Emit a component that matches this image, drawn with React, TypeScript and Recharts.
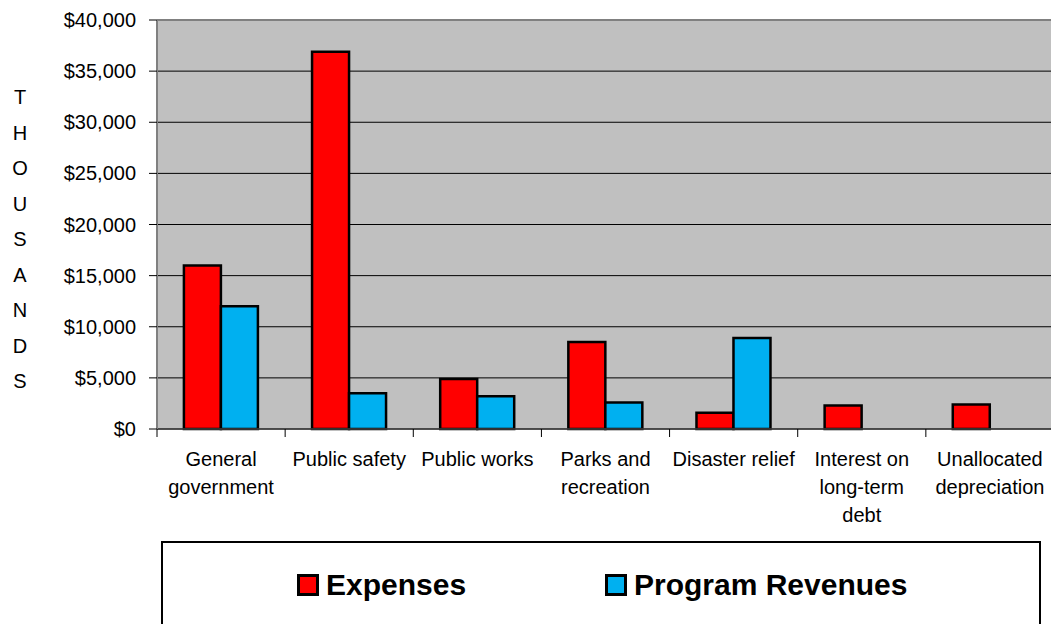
import React from 'react';
import { BarChart, Bar, XAxis, YAxis, CartesianGrid, ReferenceLine } from 'recharts';

const categories = [
  'General\ngovernment',
  'Public safety',
  'Public works',
  'Parks and\nrecreation',
  'Disaster relief',
  'Interest on\nlong-term\ndebt',
  'Unallocated\ndepreciation',
];
const expenses = [16000, 36900, 4900, 8500, 1600, 2300, 2400];
const programRevenues: (number | null)[] = [12000, 3500, 3200, 2600, 8900, null, null];
const yTicks = [0, 5000, 10000, 15000, 20000, 25000, 30000, 35000, 40000];
const seriesNames = ['Expenses', 'Program Revenues'];
const seriesColors = ['#FF0000', '#00B0F0'];
const axisTitle = 'THOUSANDS';

const data = categories.map((name, i) => ({
  name,
  expenses: expenses[i],
  revenues: programRevenues[i],
}));

const FONT = '"Liberation Sans", Arial, sans-serif';
// plot runs a little past the right edge of the window, as in the original
const CHART_W = 1054;
const Y_AXIS_W = 157;
const HALF_BAND = (CHART_W - Y_AXIS_W) / categories.length / 2;

interface TickProps {
  x: number;
  y: number;
  payload: { value: string };
}

const CategoryTick = (props: TickProps) => {
  const { x, y, payload } = props;
  const lines = String(payload.value).split('\n');
  return (
    <g>
      <line x1={x - HALF_BAND} x2={x - HALF_BAND} y1={y - 10} y2={y - 2} stroke="#000" strokeWidth={1} />
      <text x={x} y={y} textAnchor="middle" fontSize={20} fill="#000" fontFamily={FONT}>
        {lines.map((ln, i) => (
          <tspan key={i} x={x} dy={i === 0 ? 27 : 28}>
            {ln}
          </tspan>
        ))}
      </text>
    </g>
  );
};

const App: React.FC = () => {
  return (
    <div style={{ position: 'absolute', left: 0, top: 0, width: 1051, height: 624, background: '#fff', overflow: 'hidden', fontFamily: FONT }}>
      <BarChart
        width={CHART_W}
        height={624}
        data={data}
        margin={{ top: 20, right: 0, bottom: 0, left: 0 }}
        barCategoryGap="21%"
        barGap={0}
      >
        <CartesianGrid vertical={false} fill="#C0C0C0" stroke="#000" strokeOpacity={1} />
        <ReferenceLine y={40000} stroke="#808080" strokeWidth={2} />
        <XAxis
          dataKey="name"
          height={195}
          interval={0}
          tickSize={8}
          tickMargin={2}
          tickLine={false}
          axisLine={{ stroke: '#404040', strokeWidth: 1.5 }}
          tick={(p: TickProps) => <CategoryTick {...p} />}
        />
        <YAxis
          width={Y_AXIS_W}
          domain={[0, 40000]}
          ticks={yTicks}
          interval={0}
          tickSize={8}
          tickMargin={13}
          tickLine={{ stroke: '#000' }}
          axisLine={{ stroke: '#808080', strokeWidth: 2 }}
          tick={{ fontSize: 20, fill: '#000', fontFamily: FONT }}
          tickFormatter={(v: number) => `$${v.toLocaleString('en-US')}`}
        />
        <Bar dataKey="expenses" name={seriesNames[0]} fill={seriesColors[0]} stroke="#000" strokeWidth={2.5} isAnimationActive={false} />
        <Bar dataKey="revenues" name={seriesNames[1]} fill={seriesColors[1]} stroke="#000" strokeWidth={2.5} isAnimationActive={false} />
      </BarChart>

      <div style={{ position: 'absolute', left: 10, top: 80, width: 20, textAlign: 'center', fontSize: 20, lineHeight: '35.5px', color: '#000' }}>
        {axisTitle.split('').map((ch, i) => (
          <div key={i}>{ch}</div>
        ))}
      </div>

      <div
        style={{
          position: 'absolute',
          left: 161,
          top: 541,
          width: 880,
          height: 120,
          border: '2px solid #000',
          background: '#fff',
          boxSizing: 'border-box',
        }}
      >
        {seriesNames.map((nm, i) => (
          <div
            key={nm}
            style={{
              position: 'absolute',
              left: i === 0 ? 134 : 442,
              top: 24,
              display: 'flex',
              alignItems: 'center',
              fontSize: 30,
              fontWeight: 'bold',
              color: '#000',
              lineHeight: '36px',
            }}
          >
            <span
              style={{
                display: 'inline-block',
                width: 22,
                height: 22,
                boxSizing: 'border-box',
                border: '3px solid #000',
                background: seriesColors[i],
                marginRight: 7,
              }}
            />
            <span>{nm}</span>
          </div>
        ))}
      </div>
    </div>
  );
};

export default App;
